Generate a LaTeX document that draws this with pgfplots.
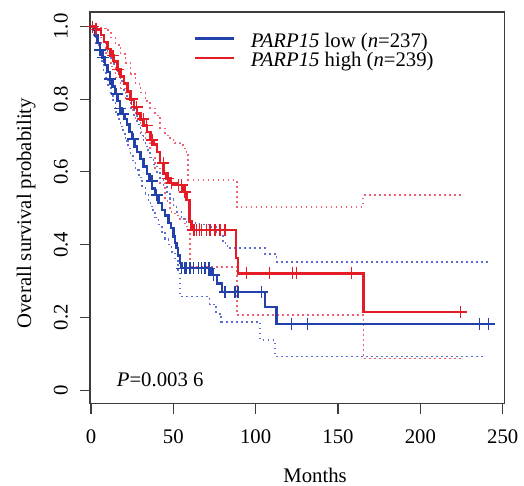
\documentclass[border=0pt]{standalone}
\usepackage{fontspec}
\setmainfont{Liberation Serif}
\usepackage{pgfplots}
\pgfplotsset{compat=1.18}
\definecolor{kmblue}{RGB}{35,65,170}
\definecolor{kmred}{RGB}{228,28,38}
\definecolor{ciblue}{RGB}{95,110,210}
\definecolor{cired}{RGB}{240,95,115}
\definecolor{axgray}{RGB}{60,60,60}
\newcommand{\fs}{\fontsize{20.8}{24}\selectfont}
\begin{document}
\begin{tikzpicture}
\path[use as bounding box] (-90bp,-82.5bp) rectangle (434bp,403.5bp);
\begin{axis}[
  at={(0,0)}, anchor=south west,
  scale only axis, width=414.5bp, height=391.5bp,
  xmin=-0.6, xmax=251.1, ymin=-0.037, ymax=1.040,
  axis line style={axgray, line width=1.1bp},
  tick style={axgray, line width=1.1bp},
  tick align=outside, major tick length=10bp,
  xtick={0,50,100,150,200,250}, xticklabels={0,50,100,150,200,250},
  ytick={0,0.2,0.4,0.6,0.8,1}, yticklabels={0,0.2,0.4,0.6,0.8,1.0},
  xtick pos=bottom, ytick pos=left,
  /pgf/number format/assume math mode=true,
  ticklabel style={font=\fs, text=black},
  xticklabel style={anchor=north, inner sep=0pt},
  yticklabel style={rotate=90, anchor=south, inner sep=0pt},
  xticklabel shift=16bp, yticklabel shift=12bp,
  every axis y label/.style={at={(axis description cs:-0.142,0.486)}, anchor=base, rotate=90, font=\fs, inner sep=0pt},
  every axis x label/.style={at={(axis description cs:0.543,-0.201)}, anchor=base, font=\fs, inner sep=0pt},
  xlabel={Months}, ylabel={Overall survival probability},
  legend style={at={(axis description cs:0.2485,0.9456)}, anchor=north west, draw=none, fill=none,
    inner sep=0pt, row sep=0pt, column sep=16bp,
    nodes={inner sep=0pt, text height=14bp, text depth=5.4bp, font=\fs}},
  legend cell align=left,
  legend image code/.code={\draw[#1, line width=2.6bp] (0bp,4.6bp) -- (39bp,4.6bp);},
  ci/.style={const plot, line width=1.6bp, dash pattern=on 1.8bp off 3.2bp, forget plot},
]
% confidence bands
\addplot[ci, cired] coordinates {
(0,1.0) (6,0.995) (9,0.99) (12,0.97) (15,0.95) (18,0.925) (21,0.90) (24,0.87)
(27,0.842) (30,0.818) (33,0.795) (36,0.775) (39,0.755) (42,0.72) (45,0.70)
(48,0.688) (51,0.68) (54,0.674) (57,0.655) (59,0.578) (88.5,0.504) (165.3,0.536) (225,0.536)};
\addplot[ci, cired] coordinates {
(0,1.0) (3,0.975) (6,0.955) (9,0.925) (12,0.89) (15,0.86) (18,0.83) (21,0.80)
(24,0.77) (27,0.74) (30,0.71) (33,0.68) (36,0.64) (39,0.61) (42,0.57) (45,0.52)
(48,0.49) (51,0.48) (54,0.47) (57,0.45) (59,0.43) (60,0.339) (88.8,0.206) (165.5,0.087) (225,0.087)};
\addplot[ci, ciblue] coordinates {
(0,1.0) (4,0.99) (6,0.975) (8,0.955) (10,0.93) (12,0.91) (14,0.89) (16,0.87)
(18,0.85) (20,0.825) (22,0.80) (24,0.775) (26,0.755) (28,0.73) (30,0.70)
(32,0.68) (34,0.66) (36,0.64) (38,0.62) (40,0.60) (42,0.578) (44,0.56) (46,0.54)
(48,0.525) (50,0.505) (52,0.49) (55,0.47) (58,0.46) (66,0.455) (72,0.449)
(76,0.43) (80,0.405) (83,0.39) (105.6,0.375) (112.7,0.353) (241,0.353)};
\addplot[ci, ciblue] coordinates {
(0,1.0) (1.5,0.975) (3,0.955) (4.5,0.93) (6,0.905) (7.5,0.88) (9,0.855)
(10.5,0.835) (12,0.81) (13.5,0.79) (15,0.765) (16.5,0.745) (18,0.725)
(19.5,0.705) (21,0.685) (22.5,0.665) (24,0.645) (25.5,0.625) (27,0.605)
(29,0.585) (31,0.56) (33,0.54) (35,0.515) (37,0.495) (39,0.475) (41,0.455)
(43,0.435) (45,0.415) (47,0.40) (49,0.38) (51,0.355) (53,0.33) (54,0.257)
(72,0.235) (76,0.21) (79,0.188) (102.6,0.138) (111.7,0.092) (239,0.092)};
% Kaplan-Meier curves
\addplot[const plot, kmblue, line width=2.4bp] coordinates {
(0,1.0) (1.5,0.99) (2.5,0.975) (4,0.955) (5.5,0.935) (7,0.915) (8.5,0.895)
(10,0.875) (11.5,0.855) (13,0.835) (14.5,0.815) (16,0.795) (17.5,0.775)
(19,0.76) (20.5,0.745) (22,0.73) (23.5,0.71) (25,0.69) (26.5,0.67) (28,0.655)
(30,0.635) (32,0.615) (34,0.595) (35.5,0.575) (37,0.555) (39,0.536) (41,0.515)
(43,0.495) (45,0.48) (47,0.46) (48.5,0.445) (50,0.422) (51,0.405) (52,0.39)
(53,0.37) (54,0.35) (55,0.335) (73.3,0.316) (76.5,0.293) (79.4,0.270)
(105.6,0.229) (112.7,0.182) (244,0.182)};
\addlegendentry{\textit{PARP15} low (\textit{n}=237)}
\addplot[const plot, kmred, line width=2.6bp] coordinates {
(0,1.0) (3,0.992) (6,0.977) (8,0.958) (10,0.938) (12,0.92) (14,0.903) (16,0.882)
(18,0.862) (20,0.843) (22,0.822) (24,0.80) (26,0.778) (28,0.76) (30,0.745)
(32,0.728) (34,0.71) (36,0.688) (38,0.675) (40,0.655) (42,0.625) (44,0.596)
(46,0.582) (48,0.570) (51,0.564) (56,0.545) (58,0.523) (60,0.463) (61,0.440)
(88,0.363) (89.3,0.321) (165.3,0.215) (224.5,0.215)};
\addlegendentry{\textit{PARP15} high (\textit{n}=239)}
% censoring marks
\addplot[only marks, mark=+, mark size=6bp, kmblue, mark options={line width=1.5bp}, forget plot] coordinates {
(1,1.0) (5.5,0.935) (7.5,0.915) (11.5,0.855) (15.6,0.815) (17.6,0.775) (19.6,0.76)
(25.7,0.69) (36.9,0.575) (39.9,0.536) (55.1,0.335) (57.1,0.335) (58.1,0.335)
(60.1,0.335) (62.1,0.335) (65.2,0.335) (67.2,0.335) (69.2,0.335) (71.8,0.335)
(74.5,0.316) (81.4,0.27) (87.4,0.27) (89.4,0.27) (103.6,0.27) (121.8,0.182)
(131.5,0.182) (235.8,0.182) (241.5,0.182)};
\addplot[only marks, mark=+, mark size=6bp, kmred, mark options={line width=1.5bp}, forget plot] coordinates {
(1,1.0) (3,0.992) (13.5,0.92) (16.6,0.882) (24.7,0.80) (27.7,0.778) (31.8,0.745)
(33.8,0.728) (36.9,0.688) (43.9,0.625) (46.9,0.582) (49,0.570) (53,0.564)
(55,0.564) (57,0.545) (62.1,0.44) (63,0.44) (64.2,0.44) (65.8,0.44) (67.2,0.44)
(70.2,0.44) (72.2,0.44) (75.3,0.44) (78.3,0.44) (81.4,0.44) (94.5,0.321)
(108.3,0.321) (122.5,0.321) (124.9,0.321) (158.3,0.321) (224.5,0.215)};
\node[anchor=base west, font=\fs, inner sep=0pt] at (axis description cs:0.0644,0.0447) {\textit{P}=0.003 6};
\end{axis}
\end{tikzpicture}
\end{document}
